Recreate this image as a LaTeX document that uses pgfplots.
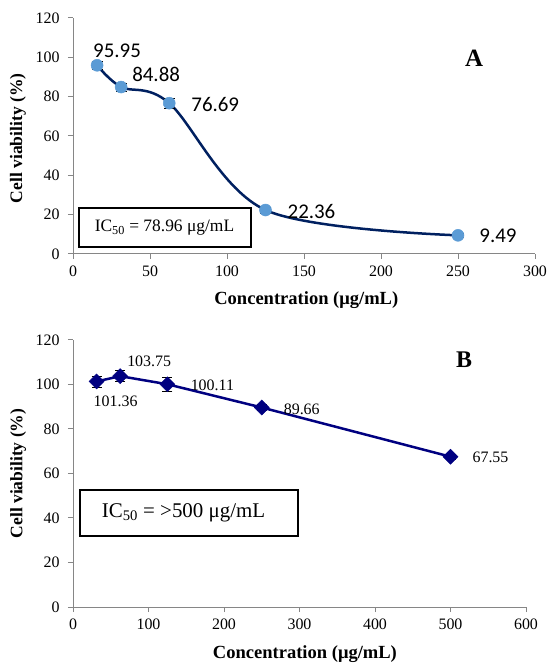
\documentclass[border=0pt]{standalone}
\usepackage{pgfplots}
\pgfplotsset{compat=1.18}
\usepackage{fontspec}
\setmainfont{Liberation Serif}
\newfontfamily\calibri{Carlito}
\definecolor{navyA}{RGB}{0,32,96}
\definecolor{dotA}{RGB}{91,155,213}
\definecolor{navyB}{RGB}{0,0,128}
\definecolor{axgray}{RGB}{134,134,134}
\begin{document}
\begin{tikzpicture}
\useasboundingbox (0bp,0bp) rectangle (550bp,663bp);
\pgfplotsset{myax/.style={scale only axis, axis lines=left,
  axis line style={draw=axgray, line width=1bp, -},
  tick style={draw=axgray, line width=1bp}, tick align=outside, major tick length=5bp,
  /pgf/number format/assume math mode=true,
  ticklabel style={font=\fontsize{16}{18}\selectfont},
  yticklabel style={xshift=-5bp}, xticklabel style={yshift=-3bp},
  xlabel style={font=\bfseries\fontsize{18.6}{21}\selectfont},
  ylabel style={font=\bfseries\fontsize{17.6}{20}\selectfont},
  clip=false, ymin=0, ymax=120, ytick={0,20,...,120}}}
% Panel A
\begin{axis}[myax, at={(73bp,409bp)}, anchor=south west, width=462bp, height=236bp,
  xmin=0, xmax=300, xtick={0,50,...,300},
  xlabel={Concentration (μg/mL)}, ylabel={Cell viability (\%)},
  xlabel style={at={(axis description cs:0.505,-0.195)}, anchor=center},
  ylabel style={at={(axis description cs:-0.119,0.49)}, anchor=center}]
\addplot[navyA, line width=2.5bp, smooth, tension=0.55, mark=*, mark size=6bp,
  mark options={fill=dotA, draw=dotA, line width=0.5bp},
  error bars/.cd, y dir=both, y explicit,
  error bar style={black, line width=0.8bp},
  error mark options={rotate=90, black, mark size=5.5bp, line width=0.8bp}]
  coordinates {(15.625,95.95) +- (0,2) (31.25,84.88) +- (0,2) (62.5,76.69) +- (0,2.5) (125,22.36) +- (0,1.5) (250,9.49) +- (0,1)};
\begin{scope}[font=\calibri\fontsize{21}{24}\selectfont]
\node[xshift=20bp, yshift=14bp] at (axis cs:15.625,95.95) {95.95};
\node[xshift=35bp, yshift=13bp] at (axis cs:31.25,84.88) {84.88};
\node[xshift=46bp, yshift=-1bp] at (axis cs:62.5,76.69) {76.69};
\node[xshift=46bp, yshift=-1bp] at (axis cs:125,22.36) {22.36};
\node[xshift=40bp, yshift=0bp] at (axis cs:250,9.49) {9.49};
\end{scope}
\draw[black, line width=1.2bp] (axis cs:3.9,3.56) rectangle (axis cs:115.6,23.4);
\node[font=\fontsize{17.5}{20}\selectfont] at (axis cs:59.4,13.2) {IC\textsubscript{50} = 78.96 μg/mL};
\node[font=\bfseries\fontsize{25}{28}\selectfont] at (axis cs:260.4,99.6) {A};
\end{axis}
% Panel B
\begin{axis}[myax, at={(73bp,56bp)}, anchor=south west, width=453bp, height=267bp,
  xmin=0, xmax=600, xtick={0,100,...,600},
  xlabel={Concentration (μg/mL)}, ylabel={Cell viability (\%)},
  xlabel style={at={(axis description cs:0.512,-0.176)}, anchor=center},
  ylabel style={at={(axis description cs:-0.121,0.5)}, anchor=center}]
\addplot[navyB, line width=2.5bp, mark=square*, mark size=5.3bp,
  mark options={rotate=45, fill=navyB, draw=navyB, line width=0.5bp},
  error bars/.cd, y dir=both, y explicit,
  error bar style={black, line width=0.8bp},
  error mark options={rotate=90, black, mark size=5bp, line width=0.8bp}]
  coordinates {(31.25,101.36) +- (0,2.5) (62.5,103.75) +- (0,2.5) (125,100.11) +- (0,3) (250,89.66) +- (0,1.5) (500,67.55) +- (0,1)};
\begin{scope}[font=\fontsize{16}{18}\selectfont]
\node[xshift=19bp, yshift=-20bp] at (axis cs:31.25,101.36) {101.36};
\node[xshift=29bp, yshift=15bp] at (axis cs:62.5,103.75) {103.75};
\node[xshift=45bp, yshift=-1bp] at (axis cs:125,100.11) {100.11};
\node[xshift=40bp, yshift=-1.5bp] at (axis cs:250,89.66) {89.66};
\node[xshift=40bp, yshift=-1bp] at (axis cs:500,67.55) {67.55};
\end{scope}
\draw[black, line width=1.5bp] (axis cs:9.3,31.9) rectangle (axis cs:298,52.6);
\node[font=\fontsize{21}{24}\selectfont] at (axis cs:146.4,42.2) {IC\textsubscript{50} = >500 μg/mL};
\node[font=\bfseries\fontsize{24}{27}\selectfont] at (axis cs:517.9,111.0) {B};
\end{axis}
\end{tikzpicture}
\end{document}
